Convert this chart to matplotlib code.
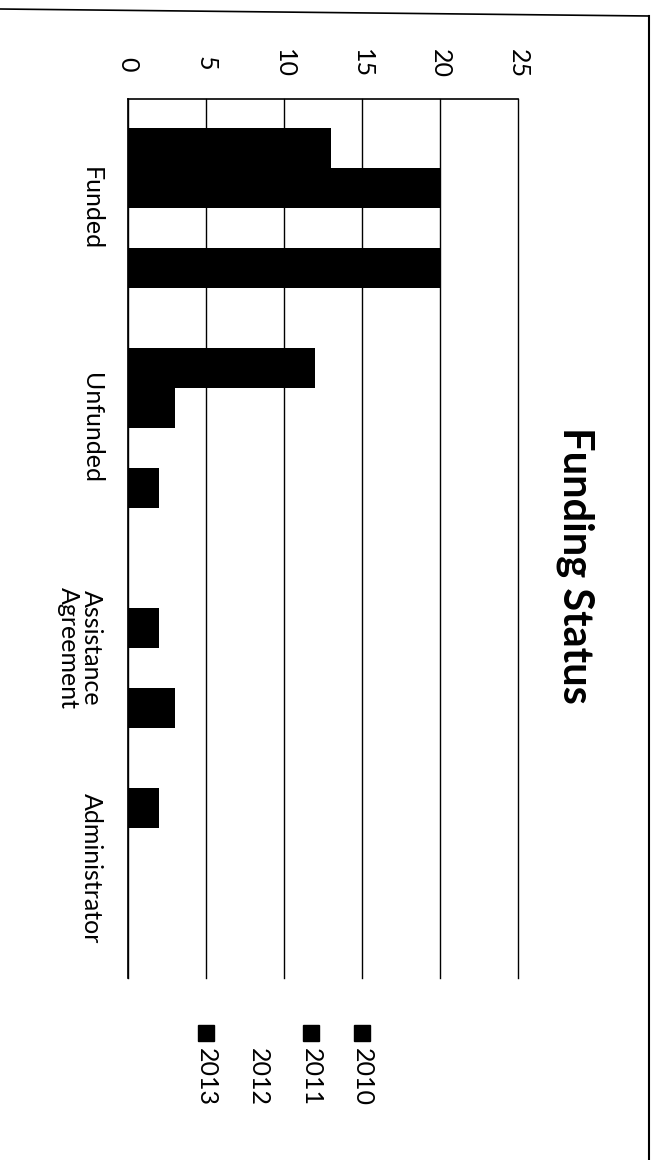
import matplotlib
matplotlib.use('Agg')
import matplotlib.pyplot as plt
from matplotlib.lines import Line2D
import numpy as np

plt.rcParams['font.family'] = ['Lato', 'DejaVu Sans']

categories = ['Funded', 'Unfunded', 'Assistance\nAgreement', 'Administrator']
years = ['2010', '2011', '2012', '2013']
v2010 = [13, 12, 0, 2]
v2011 = [20, 3, 2, 0]
v2012 = [0, 0, 0, 0]
v2013 = [20, 2, 3, 0]
series = [v2010, v2011, v2012, v2013]
colors = ['black', 'black', 'white', 'black']
x_ticks = [0, 5, 10, 15, 20, 25]

W, H = 657, 1160
fig = plt.figure(figsize=(W / 100, H / 100), dpi=100)

# plot area in pixels (left, top, right, bottom)
px_l, px_t, px_r, px_b = 128, 98.5, 518, 978
ax = fig.add_axes([px_l / W, 1 - px_b / H, (px_r - px_l) / W, (px_b - px_t) / H])

# excel style: 4 bars + 150% gap in each band
bw = 1 / 5.5
pos = np.arange(len(categories))
for j, vals in enumerate(series):
    ax.barh(pos + (j - 1.5) * bw, vals, height=bw, color=colors[j], edgecolor='none', zorder=3)

ax.set_ylim(len(categories) - 0.5, -0.5)
ax.set_xlim(0, 25)

# value axis on top, everything turned clockwise
ax.xaxis.tick_top()
ax.set_xticks(x_ticks)
ax.set_xticklabels([str(t) for t in x_ticks], rotation=-90, va='center', ha='center', fontsize=18)
ax.tick_params(axis='x', length=0, pad=25)
ax.grid(axis='x', color='black', linewidth=1.0, zorder=1)
for gl in ax.get_xgridlines():
    gl.set_clip_on(False)

ax.set_yticks(pos)
ax.set_yticklabels(categories, rotation=-90, ha='right', va='center', fontsize=18,
                   multialignment='center', linespacing=1.0)
ax.tick_params(axis='y', length=0, pad=18)

for s in ['right', 'bottom']:
    ax.spines[s].set_visible(False)
ax.spines['left'].set_linewidth(1.2)
ax.spines['top'].set_linewidth(1.2)

# title
fig.text(575 / W, 1 - 565 / H, 'Funding Status', rotation=-90, ha='center', va='center',
         fontsize=30, fontweight='bold')

# legend, drawn by hand so the text can be turned
leg_x = [362, 311, 258, 206]
for j, name in enumerate(years):
    xf = leg_x[j] / W
    if colors[j] != 'white':
        fig.add_artist(Line2D([xf], [1 - 1033 / H], marker='s', markersize=11,
                              color=colors[j], linestyle='none'))
    fig.text(xf, 1 - 1048 / H, name, rotation=-90, ha='center', va='top', fontsize=18)

# outer chart border (top and right)
fig.add_artist(Line2D([0, 649 / W], [1 - 9 / H, 1 - 16 / H], color='black', linewidth=1.2))
fig.add_artist(Line2D([649 / W, 649 / W], [1 - 16 / H, 0], color='black', linewidth=1.5))

plt.savefig('out.png', dpi=100)
